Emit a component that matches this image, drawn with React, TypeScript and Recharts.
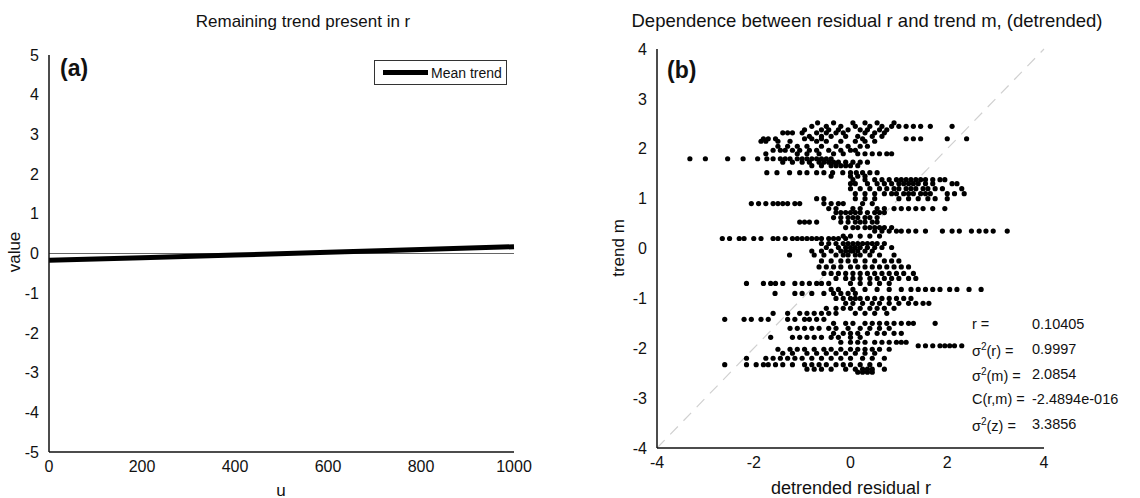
import React from "react";
import {
  LineChart,
  Line,
  ScatterChart,
  Scatter,
  XAxis,
  YAxis,
  ReferenceLine,
} from "recharts";

// panel (a): mean trend
const trendU = [0, 200, 400, 600, 800, 1000];
const trendValue = [-0.17, -0.11, -0.04, 0.03, 0.1, 0.17];
const uTicks = [0, 200, 400, 600, 800, 1000];
const valueTicks = [-5, -4, -3, -2, -1, 0, 1, 2, 3, 4, 5];

// panel (b): scatter, read as horizontal bands of trend m
const bandLevels = [
  2.52, 2.45, 2.38, 2.32, 2.25, 2.2, 2.15, 2.05, 1.97, 1.9, 1.8, 1.73, 1.66, 1.52, 1.45,
  1.38, 1.3, 1.2, 1.1, 1.0, 0.9, 0.8, 0.72, 0.62, 0.53, 0.42, 0.35, 0.25, 0.2, 0.1,
  0.02, -0.05, -0.13, -0.25, -0.37, -0.5, -0.6, -0.7, -0.82, -0.9, -1.0, -1.1, -1.2,
  -1.3, -1.42, -1.5, -1.6, -1.7, -1.78, -1.88, -1.95, -2.02, -2.1, -2.2, -2.33, -2.42,
  -2.48,
];
const bandResiduals = [
  [-0.68, -0.35, 0.05, 0.3, 0.55, 0.9],
  [-0.8, -0.5, -0.2, 0.1, 0.4, 0.65, 0.85, 1.0, 1.15, 1.3, 1.45, 1.65, 2.1],
  [-0.95, -0.6, -0.45, -0.25, -0.05, 0.2, 0.35, 0.6, 0.75],
  [-1.4, -1.3, -1.2, -1.0, -0.7, -0.5, -0.3, -0.15, 0.3, 0.5, 0.7],
  [-0.85, -0.6, -0.4, -0.1, 0.15, 0.45, 0.65],
  [-1.8, -1.7, -1.55, -0.95, -0.8, -0.6, 0.25, 1.15, 1.3, 1.45, 2.0, 2.4],
  [-1.85, -1.75, -1.5, -1.25, -0.7, -0.5, -0.2, 0.1, 0.3, 0.5],
  [-1.5, -1.3, -1.1, -0.9, -0.6, -0.3, -0.05, 0.2, 0.35],
  [-1.6, -1.45, -1.35, -1.2, -1.05, -0.85, -0.7, -0.45, -0.2, 0.0, 0.1],
  [-1.75, -1.1, -0.9, -0.65, -0.35, -0.15, 0.15, 0.3, 0.45, 0.6, 0.75, 0.85],
  [-3.32, -3.0, -2.54, -2.22, -1.92, -1.73, -1.6, -1.45, -1.35, -1.25, -1.1, -1.0, -0.9, -0.8, -0.7, -0.6, -0.5, -0.4],
  [-1.4, -1.2, -1.0, -0.85, -0.65, -0.55, -0.45, -0.35, -0.25, -0.1, 0.05, 0.2, 0.35],
  [-0.8, -0.6, -0.4, -0.3, -0.2, -0.1, 0.0, 0.15],
  [-1.73, -1.52, -1.26, -1.05, -0.9, -0.7, -0.55, -0.37, -0.16, 0.0, 0.12, 0.25, 0.4, 0.55],
  [-0.4, 0.0, 0.15, 0.3],
  [0.05, 0.3, 0.5, 0.65, 0.8, 0.95, 1.05, 1.15, 1.25, 1.35, 1.45, 1.55, 1.7, 1.85, 1.95],
  [0.0, 0.1, 0.35, 0.55, 0.7, 0.85, 1.0, 1.1, 1.2, 1.3, 1.4, 1.55, 1.7, 2.1, 2.2],
  [0.0, 0.2, 0.4, 0.6, 0.75, 0.9, 1.0, 1.15, 1.25, 1.35, 1.5, 1.6, 1.75, 1.9, 2.3],
  [0.1, 0.3, 0.5, 0.7, 0.85, 0.95, 1.1, 1.2, 1.3, 1.45, 1.55, 1.65, 2.0, 2.15, 2.35],
  [-0.7, -0.55, 0.1, 0.3, 0.5, 1.0, 1.2, 1.4, 1.6, 1.75, 2.0],
  [-2.05, -1.9, -1.75, -1.6, -1.5, -1.4, -1.3, -1.15, -1.05, -0.55, -0.4, -0.25, -0.15, 0.25, 0.45],
  [-0.45, -0.3, 0.05, 0.2, 0.55, 0.7, 0.9, 1.05, 1.2, 1.35, 1.5, 1.7, 1.95],
  [-0.3, -0.2, -0.1, 0.0, 0.1, 0.2, 0.35, 0.5, 0.6, 0.7],
  [-0.35, -0.2, -0.05, 0.05, 0.15, 0.3, 0.4, 0.55],
  [-1.05, -0.95, -0.85, -0.7, -0.2, -0.05, 0.1, 0.2, 0.3, 0.45, 0.55],
  [-0.1, 0.05, 0.15, 0.3, 0.4, 0.5, 0.6, 0.7, 0.85],
  [0.5, 0.65, 0.8, 0.95, 1.05, 1.2, 1.35, 1.55, 1.9, 2.1, 2.25, 2.5, 2.66, 2.8, 2.95, 3.24],
  [-0.15, 0.0, 0.2, 0.4, 0.6],
  [-2.65, -2.5, -2.3, -2.2, -2.0, -1.85, -1.6, -1.5, -1.35, -1.2, -1.1, -1.0, -0.9, -0.8, -0.7, -0.6, -0.45, -0.35, -0.25, -0.1],
  [-0.6, -0.45, -0.3, -0.15, -0.05, 0.05, 0.15, 0.25, 0.35, 0.45, 0.55, 0.7],
  [-0.5, -0.25, -0.1, 0.0, 0.1, 0.2, 0.35, 0.5, 0.65, 0.85],
  [-0.8, -0.6, -0.4, -0.2, -0.1, 0.0, 0.05, 0.15, 0.3, 0.45],
  [-1.26, -0.75, -0.55, -0.3, -0.15, -0.05, 0.1, 0.2, 0.4, 0.6, 0.9],
  [-0.6, -0.4, -0.2, -0.05, 0.1, 0.3, 0.5, 0.7, 0.85, 1.0],
  [-0.65, -0.5, -0.35, -0.2, 0.0, 0.15, 0.3, 0.45, 0.6, 0.75, 0.9, 1.05, 1.2],
  [-0.55, -0.4, -0.25, -0.1, 0.05, 0.2, 0.35, 0.5, 0.65, 0.8, 0.95, 1.1, 1.3],
  [-0.3, -0.1, 0.05, 0.2, 0.4, 0.55, 0.7, 0.85, 1.0, 1.2, 1.35],
  [-2.15, -1.8, -1.65, -1.55, -1.4, -1.15, -1.0, -0.85, -0.7, -0.6, -0.45, 0.0, 0.2, 0.4, 0.6, 0.8],
  [-0.4, -0.25, 0.05, 0.3, 0.55, 0.8, 1.05, 1.25, 1.4, 1.55, 1.7, 1.85, 2.05, 2.2, 2.45, 2.7],
  [-1.56, -1.15, -1.0, -0.8, -0.55, -0.35, -0.2, -0.05, 0.1],
  [-0.3, -0.15, 0.0, 0.1, 0.2, 0.35, 0.5, 0.65, 0.8, 0.95, 1.1, 1.25],
  [-0.1, 0.05, 0.25, 0.45, 0.6, 0.8, 1.0, 1.2, 1.35, 1.5, 1.62],
  [-0.5, -0.3, -0.15, 0.0, 0.2, 0.4, 0.55, 0.7, 0.9],
  [-1.6, -1.3, -1.05, -0.9, -0.75, -0.6, -0.45, -0.3, 0.1, 0.3, 0.5, 0.75],
  [-2.6, -2.2, -2.05, -1.85, -1.7, -1.3, -1.15, -0.95, -0.85, -0.7, -0.55],
  [-0.35, -0.1, 0.05, 0.3, 0.45, 0.6, 0.75, 0.9, 1.05, 1.2, 1.3, 1.75],
  [-1.25, -1.1, -0.95, -0.8, -0.65, -0.45, -0.3, -0.05, 0.2, 0.4, 0.6, 0.8],
  [-0.35, -0.15, 0.0, 0.15, 0.35, 0.55, 0.7, 0.9, 1.05],
  [-1.65, -1.2, -1.05, -0.9, -0.75, -0.6, -0.4, -0.25, 0.0, 0.2],
  [-0.2, 0.0, 0.15, 0.3, 0.5, 0.65, 0.8, 0.95, 1.05, 1.15],
  [1.4, 1.55, 1.7, 1.85, 1.95, 2.05, 2.15, 2.3],
  [-1.5, -1.25, -1.1, -0.95, -0.75, -0.55, -0.4, -0.2, 0.0, 0.15, 0.3, 0.45, 0.6, 0.8],
  [-1.4, -1.2, -0.9, -0.7, -0.5, -0.3, -0.1, 0.1, 0.3, 0.5],
  [-2.15, -1.75, -1.6, -1.45, -1.3, -1.15, -1.0, -0.8, -0.6, -0.4, -0.2, 0.0, 0.25, 0.45, 0.7],
  [-2.6, -2.15, -1.95, -1.8, -1.7, -1.55, -1.4, -1.2, -0.95, -0.8, -0.65, -0.5, -0.3, -0.15, 0.0, 0.2, 0.4, 0.6],
  [-0.9, -0.75, -0.6, -0.4, -0.1, 0.1, 0.25, 0.35, 0.45, 0.7],
  [0.15, 0.25, 0.35, 0.45],
];
const rTicks = [-4, -2, 0, 2, 4];
const mTicks = [-4, -3, -2, -1, 0, 1, 2, 3, 4];
const diagonal = [
  { x: -4, y: -4 },
  { x: 4, y: 4 },
];

const trendData = trendU.map((u, i) => ({ u, value: trendValue[i] }));
const scatterData = bandLevels.flatMap((m, i) =>
  bandResiduals[i].map((r) => ({ r, m }))
);

const ink = "#111";
const font = "'Liberation Sans', Arial, sans-serif";
const tickStyle = { fontSize: 16, fill: ink, fontFamily: font };
const axisLine = { stroke: ink, strokeWidth: 1.5 };

const abs = (left: number, top: number, extra: React.CSSProperties = {}) =>
  ({
    position: "absolute",
    left,
    top,
    fontFamily: font,
    color: ink,
    whiteSpace: "nowrap",
    lineHeight: 1,
    ...extra,
  } as React.CSSProperties);

const statRows = [
  ["r =", "0.10405"],
  ["σ2(r) =", "0.9997"],
  ["σ2(m) =", "2.0854"],
  ["C(r,m) =", "-2.4894e-016"],
  ["σ2(z) =", "3.3856"],
];

function StatLabel({ text }: { text: string }) {
  if (text.startsWith("σ2")) {
    return (
      <span>
        σ<sup style={{ fontSize: 10, verticalAlign: 6 }}>2</sup>
        {text.slice(2)}
      </span>
    );
  }
  return <span>{text}</span>;
}

const Dot = (props: any) => <circle cx={props.cx} cy={props.cy} r={2.6} fill="#000" />;

export default function App() {
  return (
    <div style={{ position: "absolute", left: 0, top: 0, width: 1140, height: 498, background: "#fff" }}>
      <div style={{ position: "absolute", left: 0, top: 0 }}>
        <LineChart
          width={560}
          height={498}
          data={trendData}
          margin={{ top: 55, left: 19, right: 46, bottom: 16 }}
        >
          <XAxis
            dataKey="u"
            type="number"
            domain={[0, 1000]}
            ticks={uTicks}
            tick={tickStyle}
            axisLine={axisLine}
            tickLine={false}
            tickMargin={3}
            height={30}
          />
          <YAxis
            type="number"
            domain={[-5, 5]}
            ticks={valueTicks}
            tick={tickStyle}
            axisLine={axisLine}
            tickLine={false}
            tickMargin={4}
            width={30}
          />
          <ReferenceLine y={0} stroke="#666" strokeWidth={1} />
          <Line
            dataKey="value"
            stroke="#000"
            strokeWidth={5}
            dot={false}
            isAnimationActive={false}
          />
        </LineChart>
      </div>

      <div style={{ position: "absolute", left: 570, top: 0 }}>
        <ScatterChart
          width={570}
          height={498}
          margin={{ top: 49, left: 57, right: 96, bottom: 20 }}
        >
          <XAxis
            dataKey="r"
            type="number"
            domain={[-4, 4]}
            ticks={rTicks}
            tick={tickStyle}
            axisLine={axisLine}
            tickLine={false}
            tickMargin={3}
            height={30}
          />
          <YAxis
            dataKey="m"
            type="number"
            domain={[-4, 4]}
            ticks={mTicks}
            tick={tickStyle}
            axisLine={axisLine}
            tickLine={false}
            tickMargin={4}
            width={30}
          />
          <ReferenceLine
            segment={diagonal}
            stroke="#d0d0d0"
            strokeWidth={1.2}
            strokeDasharray="11 8"
          />
          <Scatter data={scatterData} fill="#000" shape={Dot} isAnimationActive={false} />
        </ScatterChart>
      </div>

      {/* legend of panel (a) */}
      <div
        style={abs(374, 60, {
          width: 131,
          height: 23,
          border: "1px solid #333",
          background: "#fff",
          display: "flex",
          alignItems: "center",
          fontSize: 14,
        })}
      >
        <div style={{ width: 45, height: 5, background: "#000", marginLeft: 8, marginRight: 3 }} />
        Mean trend
      </div>

      <div style={abs(303, 13, { fontSize: 17, transform: "translateX(-50%)" })}>
        Remaining trend present in r
      </div>
      <div style={abs(867, 12, { fontSize: 18.5, transform: "translateX(-50%)" })}>
        Dependence between residual r and trend m, (detrended)
      </div>
      <div style={abs(60, 57, { fontSize: 23, fontWeight: "bold" })}>(a)</div>
      <div style={abs(667, 59, { fontSize: 23, fontWeight: "bold" })}>(b)</div>
      <div style={abs(281, 482, { fontSize: 17, transform: "translateX(-50%)" })}>u</div>
      <div
        style={abs(14, 252, {
          fontSize: 17,
          transform: "translate(-50%, -50%) rotate(-90deg)",
        })}
      >
        value
      </div>
      <div style={abs(851, 479, { fontSize: 18, transform: "translateX(-50%)" })}>
        detrended residual r
      </div>
      <div
        style={abs(618, 248, {
          fontSize: 17,
          transform: "translate(-50%, -50%) rotate(-90deg)",
        })}
      >
        trend m
      </div>

      {statRows.map(([label, value], i) => (
        <div key={label} style={abs(972, 317 + i * 25, { fontSize: 14.5, width: 170 })}>
          <StatLabel text={label} />
          <span style={{ position: "absolute", left: 60 }}>{value}</span>
        </div>
      ))}
    </div>
  );
}
